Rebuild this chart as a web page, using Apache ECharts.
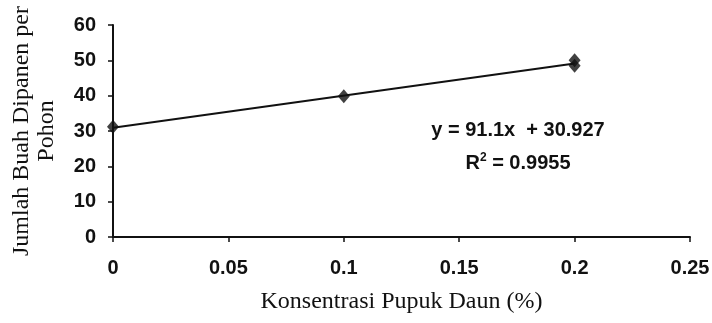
<!DOCTYPE html>
<html>
<head>
<meta charset="utf-8">
<script src="https://cdn.jsdelivr.net/npm/echarts@6/dist/echarts.min.js"></script>
<style>
html,body{margin:0;padding:0;background:#fff;}
#c{width:712px;height:323px;}
</style>
</head>
<body>
<div id="c"></div>
<script>
// Data
const xValues = [0, 0.1, 0.2, 0.2];
const yValues = [31.2, 39.8, 48.5, 50.0];
const trendX = [0, 0.2];
const trendY = [30.9, 49.1];
const xTicks = [0, 0.05, 0.1, 0.15, 0.2, 0.25];
const yTicks = [0, 10, 20, 30, 40, 50, 60];
const equationText = 'y = 91.1x  + 30.927';
const r2Text = 'R{s|2} = 0.9955';
const xTitle = 'Konsentrasi Pupuk Daun (%)';
const yTitle = 'Jumlah Buah Dipanen per\nPohon';

const chart = echarts.init(document.getElementById('c'), null, {renderer: 'canvas'});
const pts = xValues.map((x, i) => [x, yValues[i]]);
const trend = trendX.map((x, i) => [x, trendY[i]]);
const labelFont = {fontFamily: '"Liberation Sans", Arial, sans-serif', fontWeight: 'bold', fontSize: 20, color: '#111'};
const serif = '"Liberation Serif", "Times New Roman", serif';

chart.setOption({
  animation: false,
  grid: {left: 113, right: 22, top: 25, bottom: 86, containLabel: false, outerBoundsMode: 'none'},
  xAxis: {
    type: 'value',
    min: xTicks[0], max: xTicks[xTicks.length - 1], interval: 0.05,
    axisLine: {show: true, onZero: false, lineStyle: {color: '#111', width: 2}},
    axisTick: {show: true, length: 5, lineStyle: {color: '#111', width: 1.5}},
    splitLine: {show: false},
    axisLabel: Object.assign({margin: 21, formatter: v => String(parseFloat(v.toFixed(2)))}, labelFont),
    name: xTitle, nameLocation: 'middle', nameGap: 53,
    nameTextStyle: {fontFamily: serif, fontSize: 24, color: '#111'}
  },
  yAxis: {
    type: 'value',
    min: yTicks[0], max: yTicks[yTicks.length - 1], interval: 10,
    axisLine: {show: true, lineStyle: {color: '#111', width: 2}},
    axisTick: {show: true, length: 5, lineStyle: {color: '#111', width: 1.5}},
    splitLine: {show: false},
    axisLabel: Object.assign({margin: 17}, labelFont),
    name: yTitle, nameLocation: 'middle', nameGap: 54, nameRotate: 90,
    nameTextStyle: {fontFamily: serif, fontSize: 24, color: '#111', lineHeight: 25, align: 'center', verticalAlign: 'bottom'}
  },
  series: [
    {
      type: 'line', data: trend, symbol: 'none',
      lineStyle: {color: '#111', width: 2}, z: 2
    },
    {
      type: 'scatter', data: pts, symbol: 'diamond', symbolSize: [12, 14],
      itemStyle: {color: '#111'}, z: 3
    }
  ],
  graphic: [
    {type: 'text', x: 518, y: 130, style: {text: equationText, align: 'center', verticalAlign: 'middle', font: 'bold 20px "Liberation Sans", Arial, sans-serif', fill: '#111'}},
    {type: 'text', x: 518, y: 163, style: {text: r2Text, align: 'center', verticalAlign: 'middle', font: 'bold 20px "Liberation Sans", Arial, sans-serif', fill: '#111', rich: {s: {fontSize: 12, fontWeight: 'bold', verticalAlign: 'top', padding: [0,0,11,0], fontFamily: '"Liberation Sans", Arial, sans-serif'}}}}
  ]
});
</script>
</body>
</html>
